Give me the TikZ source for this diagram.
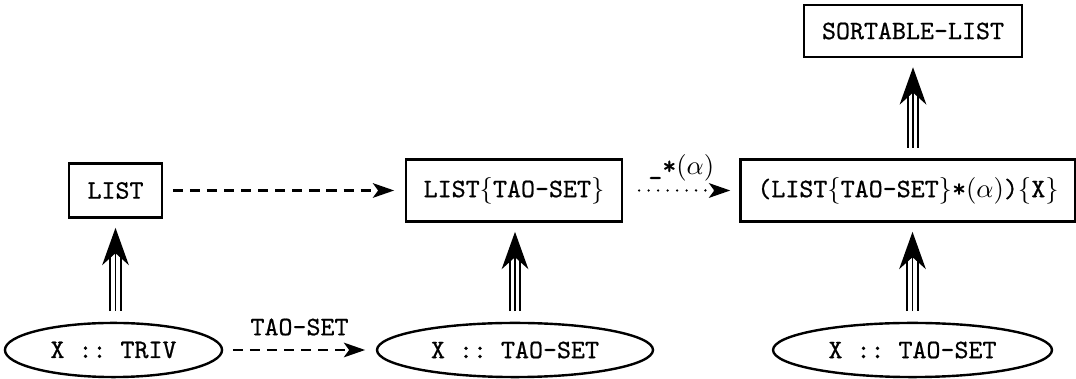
\documentclass[tikz,border=0pt]{standalone}
\usepackage{fontspec}
\setmonofont[FakeBold=0.7]{Latin Modern Mono}
\usetikzlibrary{arrows.meta,shapes.geometric}
\begin{document}
\begin{tikzpicture}[x=0.375pt,y=-0.375pt,
  box/.style={draw, line width=0.9pt, inner sep=0pt, font=\ttfamily},
  ell/.style={draw, ellipse, line width=0.9pt, inner sep=0pt, font=\ttfamily, minimum height=20.3pt},
  impl/.style={line width=0.7pt, shorten <=4pt, shorten >=3.4pt,
    -{Stealth[length=14pt,width=10pt,inset=4.5pt]},
    preaction={draw, -, line width=0.7pt, double, double distance=3.2pt, shorten <=4pt, shorten >=11pt}},
  dasharrow/.style={line width=0.85pt, dash pattern=on 3.8pt off 2.6pt,
    shorten <=3.6pt, shorten >=4pt, -{Stealth[length=8pt,width=5.5pt,inset=2pt]}},
  dotarrow/.style={line width=0.95pt, line cap=round, dash pattern=on 0pt off 3.55pt,
    shorten <=6pt, shorten >=3.4pt, -{Stealth[length=8pt,width=5.5pt,inset=2pt]}},
  lbl/.style={font=\ttfamily, inner sep=0pt}]
\useasboundingbox (0,0) rectangle (1076,379);

\node[box, minimum width=34.9pt, minimum height=20.3pt] (b1) at (115.5,190.5) {LIST};
\node[box, minimum width=81pt, minimum height=23.3pt] (b2) at (514,190.5) {LIST$\{$TAO-SET$\}$};
\node[box, minimum width=125.6pt, minimum height=23.3pt] (b3) at (908,190.5) {(LIST$\{$TAO-SET$\}$*$(\alpha)$)$\{$X$\}$};
\node[box, minimum width=81.8pt, minimum height=19.5pt] (sl) at (913,31) {SORTABLE-LIST};

\node[ell, minimum width=81.4pt] (e1) at (113.5,350) {X :: TRIV};
\node[ell, minimum width=103.5pt] (e2) at (515,350) {X :: TAO-SET};
\node[ell, minimum width=104.6pt] (e3) at (912.5,350) {X :: TAO-SET};

\draw[impl] (e1.north -| b1.south) -- (b1.south);
\draw[impl] (e2.north) -- (e2.north |- b2.south);
\draw[impl] (e3.north) -- (e3.north |- b3.south);
\draw[impl] (b3.north -| sl.south) -- (sl.south);

\draw[dasharrow] (b1.east) -- (b2.west);
\draw[dotarrow] (b2.east) -- node[lbl, midway, yshift=8.5pt] {\_*$(\alpha)$} (b3.west);
\draw[dasharrow] (e1.east) -- node[lbl, midway, yshift=8.6pt] {TAO-SET} (e2.west);
\end{tikzpicture}
\end{document}
